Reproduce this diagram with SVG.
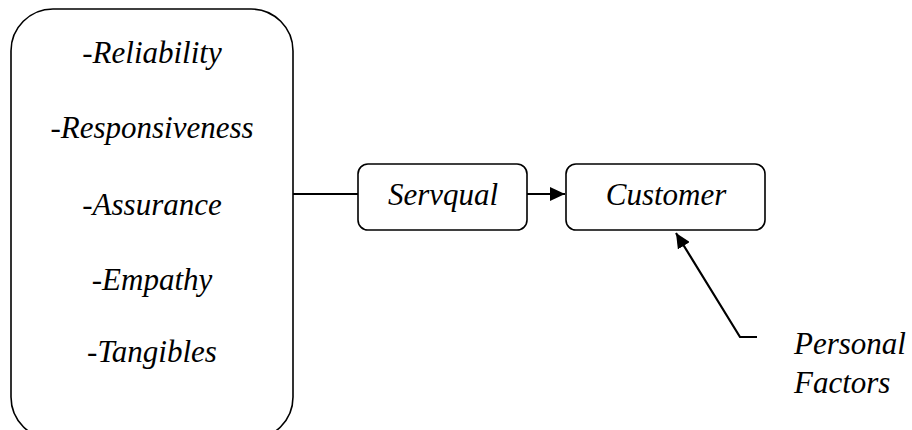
<svg xmlns="http://www.w3.org/2000/svg" width="912" height="430" viewBox="0 0 912 430">
<style>
.t{font-family:"Liberation Serif","Times New Roman",serif;font-style:italic;font-size:31px;fill:#000}
.b{fill:#fff;stroke:#000;stroke-width:1.6}
.c{fill:none;stroke:#000;stroke-width:2.2}
</style>
<defs>
<marker id="a" viewBox="0 0 15 14" refX="15" refY="7" markerWidth="15" markerHeight="14" markerUnits="userSpaceOnUse" orient="auto">
<path d="M0,0 L15,7 L0,14 z" fill="#000"/>
</marker>
</defs>
<g id="dimensions">
<rect class="b" x="11" y="9" width="282" height="430" rx="42" ry="42"/>
<text class="t" x="152" y="63" text-anchor="middle">-Reliability</text>
<text class="t" x="152" y="138" text-anchor="middle">-Responsiveness</text>
<text class="t" x="152" y="215" text-anchor="middle">-Assurance</text>
<text class="t" x="152" y="290" text-anchor="middle">-Empathy</text>
<text class="t" x="152" y="362" text-anchor="middle">-Tangibles</text>
</g>
<g id="servqual">
<rect class="b" x="358" y="164" width="169" height="66" rx="10" ry="10"/>
<text class="t" x="443" y="205" text-anchor="middle">Servqual</text>
</g>
<g id="customer">
<rect class="b" x="566" y="164" width="199" height="66" rx="10" ry="10"/>
<text class="t" x="666" y="205" text-anchor="middle">Customer</text>
</g>
<g id="personal">
<text class="t" x="794" y="354">Personal</text>
<text class="t" x="794" y="393">Factors</text>
</g>
<g id="connectors">
<line class="c" x1="293" y1="194" x2="358" y2="194"/>
<line class="c" x1="527" y1="194" x2="565" y2="194" marker-end="url(#a)"/>
<polyline class="c" points="757,337 740,337 676,233" marker-end="url(#a)"/>
</g>
</svg>
